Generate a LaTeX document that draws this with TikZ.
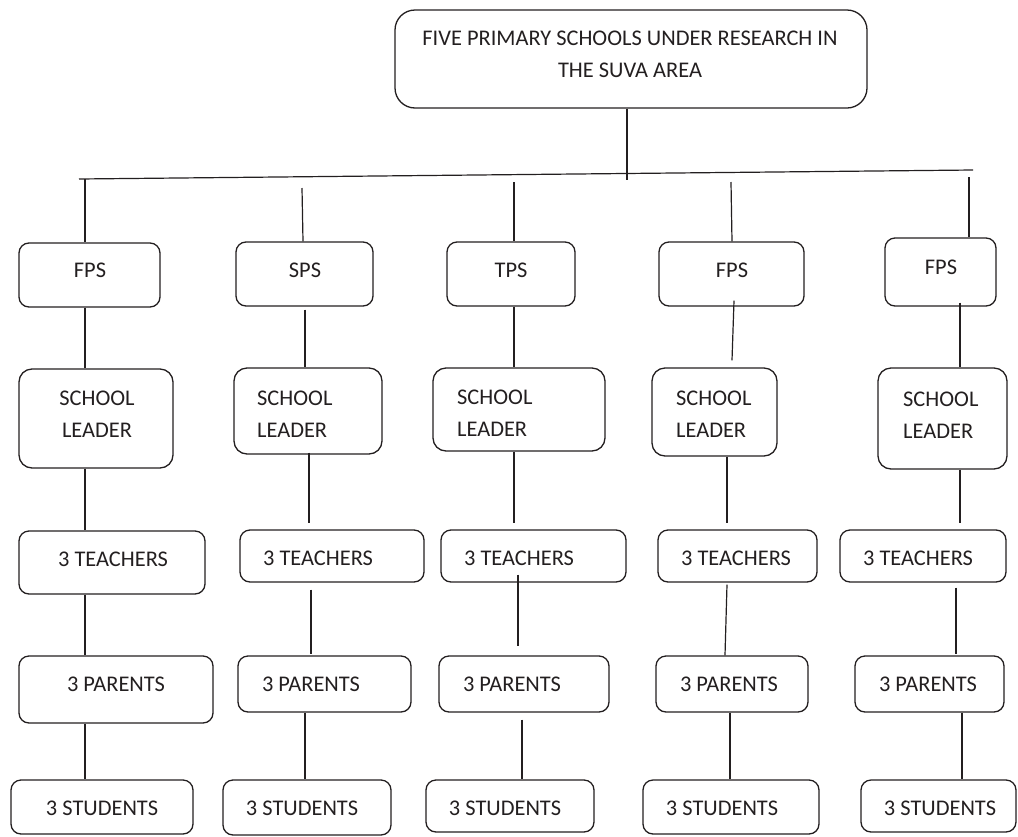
\documentclass[tikz,border=0pt]{standalone}
\usepackage{fontspec}
\setmainfont{Carlito}
\usetikzlibrary{calc}
\definecolor{ink}{HTML}{231F20}
\tikzset{
  bx/.style={draw=ink, line width=1.3pt, rounded corners=10pt, inner sep=0pt},
  txt/.style={text=ink, inner sep=0pt, font=\fontsize{22.4}{32}\selectfont},
  conn/.style={draw=ink, line width=1.2pt}
}
% \bxn{name}{x1}{y1}{x2}{y2}{radius}
\newcommand{\bxn}[6]{%
  \pgfmathsetmacro{\bw}{#4-#2}\pgfmathsetmacro{\bh}{#5-#3}%
  \node[bx, rounded corners=#6pt, minimum width=\bw pt, minimum height=\bh pt] (#1) at ({(#2+#4)/2},{(#3+#5)/2}) {};}
\newcommand{\cn}[6]{\draw[conn] ($(#1.south)+(#2,#3)$) -- ($(#4.north)+(#5,#6)$);}
\begin{document}
\begin{tikzpicture}[x=1pt,y=-1pt]
\useasboundingbox (0,0) rectangle (1018,836);
% top
\bxn{top}{395}{10}{867}{108}{20}
\node[txt, align=center] (topt) at (630,54) {FIVE PRIMARY SCHOOLS UNDER RESEARCH IN\\THE SUVA AREA};
% column 1
\bxn{F1}{19}{243}{160}{307}{10}
\node[txt] (F1t) at (90,270) {FPS};
\bxn{L1}{19}{369}{173}{468}{13}
\node[txt, align=center] (L1t) at (97,414) {SCHOOL\\LEADER};
\bxn{T1}{19}{531}{205}{594}{10}
\node[txt] (T1t) at (113,559) {3 TEACHERS};
\bxn{P1}{19}{656}{213}{723}{10}
\node[txt] (P1t) at (116,684) {3 PARENTS};
\bxn{S1}{11}{780}{193}{834}{10}
\node[txt] (S1t) at (102,808) {3 STUDENTS};
% column 2
\bxn{F2}{236}{242}{373}{306}{10}
\node[txt] (F2t) at (305,270) {SPS};
\bxn{L2}{234}{368}{382}{454}{13}
\node[txt, align=left, anchor=west] (L2t) at (257,414) {SCHOOL\\LEADER};
\bxn{T2}{240}{530}{424}{582}{10}
\node[txt] (T2t) at (318,558) {3 TEACHERS};
\bxn{P2}{238}{656}{411}{712}{10}
\node[txt] (P2t) at (311,684) {3 PARENTS};
\bxn{S2}{223}{780}{391}{835}{10}
\node[txt] (S2t) at (302,808) {3 STUDENTS};
% column 3
\bxn{F3}{447}{242}{575}{306}{10}
\node[txt] (F3t) at (511,270) {TPS};
\bxn{L3}{433}{368}{605}{451}{13}
\node[txt, align=left, anchor=west] (L3t) at (457,413) {SCHOOL\\LEADER};
\bxn{T3}{441}{530}{626}{582}{10}
\node[txt] (T3t) at (519,558) {3 TEACHERS};
\bxn{P3}{439}{656}{609}{712}{10}
\node[txt] (P3t) at (512,684) {3 PARENTS};
\bxn{S3}{426}{780}{594}{832}{10}
\node[txt] (S3t) at (505,808) {3 STUDENTS};
% column 4
\bxn{F4}{659}{242}{804}{306}{10}
\node[txt] (F4t) at (732,270) {FPS};
\bxn{L4}{652}{368}{777}{456}{13}
\node[txt, align=left, anchor=west] (L4t) at (676,414) {SCHOOL\\LEADER};
\bxn{T4}{658}{530}{817}{582}{10}
\node[txt] (T4t) at (736,558) {3 TEACHERS};
\bxn{P4}{656}{656}{808}{712}{10}
\node[txt] (P4t) at (729,684) {3 PARENTS};
\bxn{S4}{643}{780}{819}{834}{10}
\node[txt] (S4t) at (722,808) {3 STUDENTS};
% column 5
\bxn{F5}{885}{238}{996}{306}{10}
\node[txt] (F5t) at (941,267) {FPS};
\bxn{L5}{878}{368}{1007}{469}{13}
\node[txt, align=left, anchor=west] (L5t) at (903,415) {SCHOOL\\LEADER};
\bxn{T5}{840}{530}{1006}{582}{10}
\node[txt] (T5t) at (918,558) {3 TEACHERS};
\bxn{P5}{855}{656}{1004}{712}{10}
\node[txt] (P5t) at (928,684) {3 PARENTS};
\bxn{S5}{861}{780}{1016}{832}{10}
\node[txt] (S5t) at (940,808) {3 STUDENTS};
% trunk and bar
\coordinate (hm) at (627,180);
\coordinate (hl) at (79,179);
\coordinate (hr) at (973,170);
\draw[conn] ($(top.south)+(-4,0)$) -- (hm);
\draw[conn] (hl) -- (hr);
\coordinate (d1) at (85,179);
\coordinate (d2) at (302,188);
\coordinate (d3) at (514,182);
\coordinate (d4) at (731,182);
\coordinate (d5) at (969,177);
\draw[conn] (d1) -- ($(F1.north)+(-4.5,0)$);
\draw[conn] (d2) -- ($(F2.north)+(-1.5,0)$);
\draw[conn] (d3) -- ($(F3.north)+(3,0)$);
\draw[conn] (d4) -- ($(F4.north)+(0.5,0)$);
\draw[conn] (d5) -- ($(F5.north)+(28.5,0)$);
% column 1 links
\cn{F1}{-4.5}{0}{L1}{-11}{0}
\cn{L1}{-11}{0}{T1}{-27}{0}
\cn{T1}{-27}{0}{P1}{-31}{0}
\cn{P1}{-31}{0}{S1}{-17}{0}
% column 2 links
\cn{F2}{0.5}{3}{L2}{-3}{0}
\cn{L2}{1}{-2}{T2}{-23}{-6}
\cn{T2}{-21}{7}{P2}{-13.5}{-1}
\cn{P2}{-19.5}{0}{S2}{-2}{0}
% column 3 links
\cn{F3}{3}{0}{L3}{-5}{0}
\cn{L3}{-5}{0}{T3}{-19.5}{-6}
\cn{T3}{-15.5}{-8}{P3}{-6}{-9}
\cn{P3}{-2}{7}{S3}{12}{0}
% column 4 links
\cn{F4}{2.5}{-6}{L4}{17.5}{-7}
\cn{L4}{12.5}{0}{T4}{-10.5}{-6}
\cn{T4}{-10.5}{2}{P4}{-7}{0}
\cn{P4}{-2}{0}{S4}{-1}{0}
% column 5 links
\cn{F5}{19.5}{-4}{L5}{17.5}{0}
\cn{L5}{17.5}{0}{T5}{37}{-6}
\cn{T5}{33}{5}{P5}{26.5}{-1}
\cn{P5}{32.5}{0}{S5}{23.5}{0}
\end{tikzpicture}
\end{document}
